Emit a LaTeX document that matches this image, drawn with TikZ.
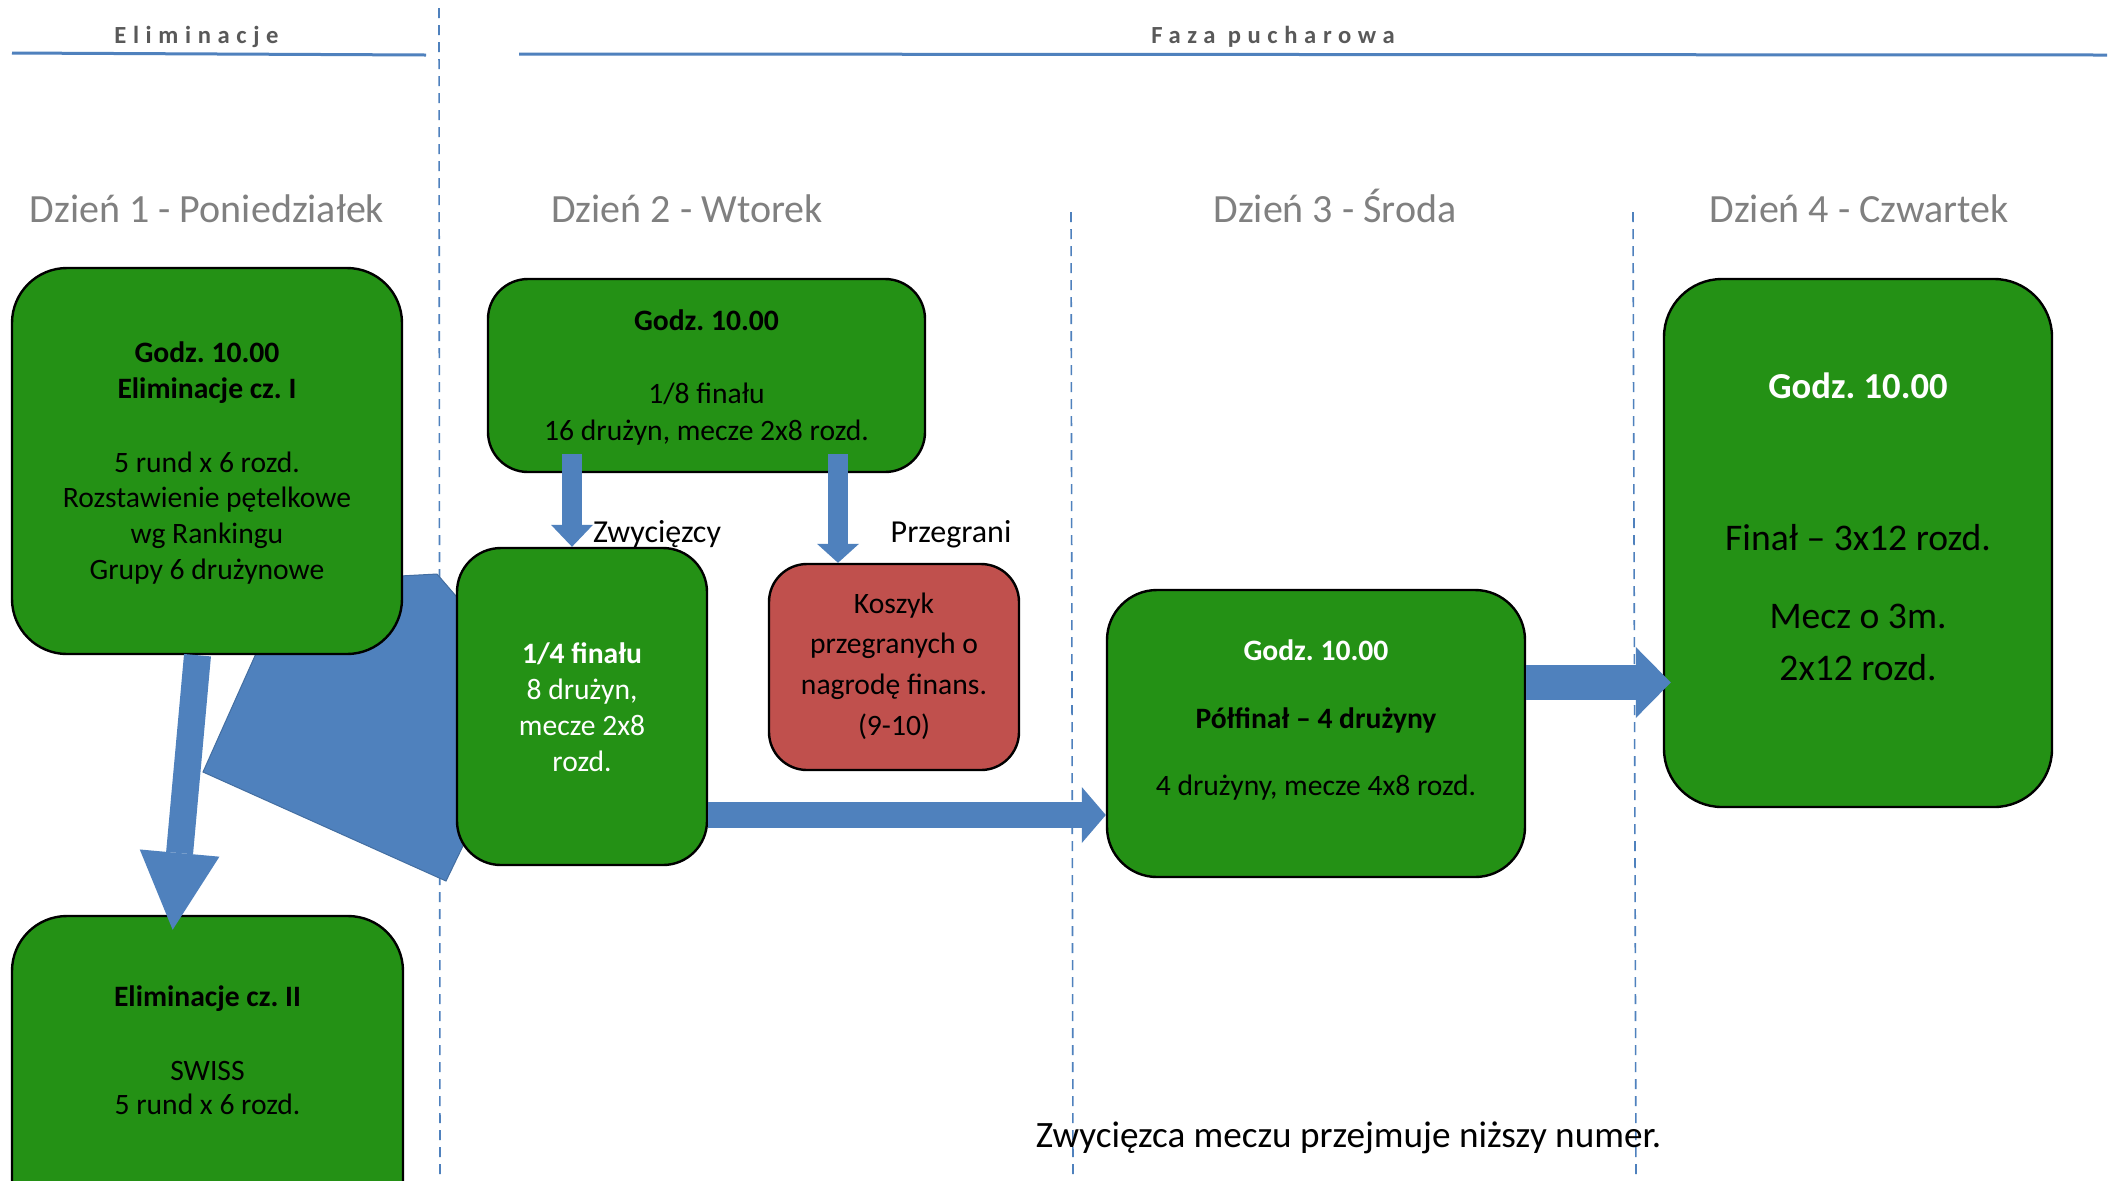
\documentclass[tikz,border=0pt]{standalone}
\usepackage{fontspec}
\setmainfont{Carlito}
\frenchspacing
\usetikzlibrary{arrows.meta,calc}
\definecolor{boxgreen}{RGB}{36,145,21}
\definecolor{boxred}{RGB}{192,80,77}
\definecolor{arrblue}{RGB}{79,129,189}
\definecolor{daygray}{RGB}{128,128,128}
\definecolor{hdrgray}{RGB}{89,89,89}
\tikzset{
  gbox/.style={draw=black, line width=1.2pt, fill=boxgreen, inner sep=0pt},
  rbox/.style={gbox, fill=boxred},
  tx/.style={anchor=base, inner sep=0pt, font=\fontsize{14.8pt}{17pt}\selectfont},
  txb/.style={anchor=base, inner sep=0pt, font=\fontsize{14.8pt}{17pt}\selectfont\bfseries},
  daytitle/.style={anchor=base, inner sep=0pt, text=daygray, font=\fontsize{20pt}{24pt}\selectfont},
  hdr/.style={anchor=base, inner sep=0pt, text=hdrgray, font=\fontsize{12.3pt}{14pt}\selectfont\bfseries\addfontfeature{LetterSpace=27}},
  hdrline/.style={draw=arrblue, line width=1.5pt},
  sepline/.style={draw=arrblue, line width=0.8pt, dash pattern=on 5pt off 3.5pt},
  blockarrow/.style={draw=arrblue},
}
\begin{document}
\begin{tikzpicture}[x=0.5pt,y=-0.5pt]
\clip (0,0) rectangle (2120,1180);
\fill[white] (0,0) rectangle (2120,1180);

% headers
\node[hdr] (h1) at (196.5,43) {Eliminacje};
\node[hdr] (h2) at (1273,43) {Faza pucharowa};
\draw[hdrline] (12,53) -- (426,55);
\draw[hdrline] (519,54) -- (2107,55);

% separators
\draw[sepline] (439,8) -- (440,1180);
\draw[sepline] (1071,212) -- (1073,1180);
\draw[sepline] (1633,212) -- (1636,1180);

% day titles
\node[daytitle] (d1) at (207,222) {Dzień 1 - Poniedziałek};
\node[daytitle] (d2) at (687,222) {Dzień 2 - Wtorek};
\node[daytitle] (d3) at (1335,222) {Dzień 3 - Środa};
\node[daytitle] (d4) at (1859,222) {Dzień 4 - Czwartek};

% big pentagon behind boxes
\fill[arrblue, draw=arrblue!85!black, line width=0.5pt] (288,582) -- (437,574) -- (538,691) -- (446,881) -- (203,772) -- cycle;

% boxes
\node[gbox, rounded corners=27.5pt, minimum width=195pt, minimum height=193pt] (b1) at (207,461) {};
\node[gbox, rounded corners=27.5pt, minimum width=195.5pt, minimum height=193pt] (b2) at (207.5,1109) {};
\node[gbox, rounded corners=20pt, minimum width=218.5pt, minimum height=96.5pt] (b3) at (706.5,375.5) {};
\node[gbox, rounded corners=22pt, minimum width=125pt, minimum height=158.5pt] (b4) at (582,706.5) {};
\node[rbox, rounded corners=19pt, minimum width=125pt, minimum height=103pt] (b5) at (894,667) {};
\node[gbox, rounded corners=25pt, minimum width=209pt, minimum height=143.5pt] (b6) at (1316,733.5) {};
\node[gbox, rounded corners=29pt, minimum width=194pt, minimum height=264pt] (b7) at (1858,543) {};

% box texts
\node[txb] (b1a) at (207,362) {Godz. 10.00};
\node[txb] (b1b) at (207,398) {Eliminacje cz. I};
\node[tx] (b1c) at (207,472) {5 rund x 6 rozd.};
\node[tx] (b1d) at (207,507) {Rozstawienie pętelkowe};
\node[tx] (b1e) at (207,543) {wg Rankingu};
\node[tx] (b1f) at (207,579) {Grupy 6 drużynowe};

\node[txb] (b2a) at (207.5,1006) {Eliminacje cz. II};
\node[tx] (b2b) at (207.5,1080) {SWISS};
\node[tx] (b2c) at (207.5,1114) {5 rund x 6 rozd.};

\node[txb] (b3a) at (706.5,330) {Godz. 10.00};
\node[tx] (b3b) at (706.5,403) {1/8 finału};
\node[tx] (b3c) at (706.5,440) {16 drużyn, mecze 2x8 rozd.};

\node[txb, text=white] (b4a) at (582,663) {1/4 finału};
\node[tx, text=white] (b4b) at (582,699) {8 drużyn,};
\node[tx, text=white] (b4c) at (582,735) {mecze 2x8};
\node[tx, text=white] (b4d) at (582,771) {rozd.};

\node[tx] (b5a) at (894,613) {Koszyk};
\node[tx] (b5b) at (894,653) {przegranych o};
\node[tx] (b5c) at (894,694) {nagrodę finans.};
\node[tx] (b5d) at (894,735) {(9-10)};

\node[txb, text=white] (b6a) at (1316,660) {Godz. 10.00};
\node[txb] (b6b) at (1316,728) {Półfinał – 4 drużyny};
\node[tx] (b6c) at (1316,795) {4 drużyny, mecze 4x8 rozd.};

\node[txb, text=white, font=\fontsize{18.3pt}{21pt}\selectfont\bfseries] (b7a) at (1858,398) {Godz. 10.00};
\node[tx, font=\fontsize{18.8pt}{22pt}\selectfont] (b7b) at (1858,550) {Finał – 3x12 rozd.};
\node[tx, font=\fontsize{18.8pt}{22pt}\selectfont] (b7c) at (1858,628) {Mecz o 3m.};
\node[tx, font=\fontsize{18.8pt}{22pt}\selectfont] (b7d) at (1858,680) {2x12 rozd.};

% labels
\node[tx, font=\fontsize{16pt}{19pt}\selectfont] (lz) at (657,542) {Zwycięzcy};
\node[tx, font=\fontsize{16pt}{19pt}\selectfont] (lp) at (951,542) {Przegrani};
\node[tx, font=\fontsize{18.6pt}{22pt}\selectfont] (note) at (1348.5,1147) {Zwycięzca meczu przejmuje niższy numer.};

% block arrows
\draw[blockarrow, line width=10pt, shorten <=-9.5pt, -{Triangle[width=21pt,length=11pt,line width=0pt]}]
  ([xshift=-5pt]b4.north |- b3.south) -- ([xshift=-5pt]b4.north);
\draw[blockarrow, line width=10pt, shorten <=-9.5pt, -{Triangle[width=21pt,length=9.5pt,line width=0pt]}]
  ([xshift=-28pt]b5.north |- b3.south) -- ([xshift=-28pt]b5.north);
\draw[blockarrow, line width=13pt, -{Triangle[width=28pt,length=12pt,line width=0pt]}]
  ([yshift=-40.75pt]b6.west -| b4.east) -- ([yshift=-40.75pt]b6.west);
\draw[blockarrow, line width=17.5pt, shorten >=-4pt, -{Triangle[width=35.5pt,length=17.5pt,line width=0pt]}]
  ([yshift=25.5pt]b6.east) -- ([yshift=25.5pt]b6.east -| b7.west);
\draw[blockarrow, line width=13.5pt, shorten >=-7.5pt, -{Triangle[width=40pt,length=38.5pt,line width=0pt]}]
  ([xshift=-4.75pt]b1.south) -- ([xshift=-16.75pt]b2.north);
\end{tikzpicture}
\end{document}
